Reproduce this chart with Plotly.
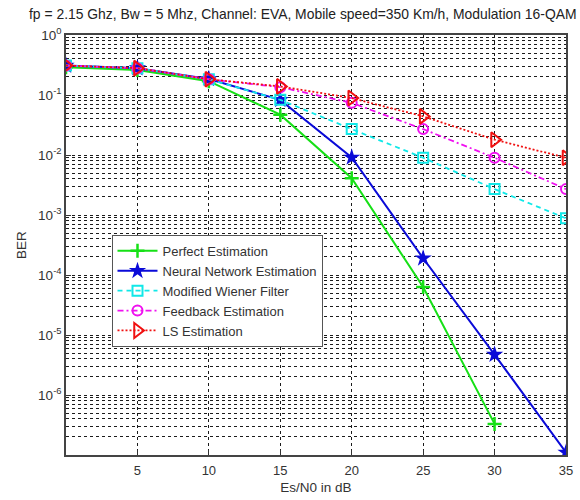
import plotly.graph_objects as go

snr = [0, 5, 10, 15, 20, 25, 30, 35]
perfect_x = [0, 5, 10, 15, 20, 25, 30]
perfect = [0.29, 0.26, 0.17, 0.047, 0.0041, 6.3e-5, 3.3e-7]
neural = [0.31, 0.28, 0.185, 0.083, 0.0091, 1.9e-4, 4.7e-6, 1.1e-7]
wiener = [0.31, 0.28, 0.183, 0.083, 0.027, 0.0090, 0.0027, 0.00088]
feedback = [0.31, 0.28, 0.183, 0.135, 0.074, 0.027, 0.0090, 0.0027]
ls = [0.31, 0.28, 0.183, 0.139, 0.089, 0.044, 0.018, 0.0090]

names = ["Perfect Estimation", "Neural Network Estimation", "Modified Wiener Filter",
         "Feedback Estimation", "LS Estimation"]
x_ticks = [5, 10, 15, 20, 25, 30, 35]
y_ticks = [1, 1e-1, 1e-2, 1e-3, 1e-4, 1e-5, 1e-6]
y_ticktext = ["10<sup>0</sup>", "10<sup>-1</sup>", "10<sup>-2</sup>", "10<sup>-3</sup>",
              "10<sup>-4</sup>", "10<sup>-5</sup>", "10<sup>-6</sup>"]
title = "fp = 2.15 Ghz, Bw = 5 Mhz, Channel: EVA, Mobile speed=350 Km/h, Modulation 16-QAM"

FONT = "Liberation Sans, Arial, sans-serif"

fig = go.Figure()
fig.add_trace(go.Scatter(x=perfect_x, y=perfect, name=names[0], mode="lines+markers",
                         line=dict(color="#16e016", width=2),
                         marker=dict(symbol="cross-thin", size=10, line=dict(color="#16e016", width=2.5))))
fig.add_trace(go.Scatter(x=snr, y=neural, name=names[1], mode="lines+markers",
                         line=dict(color="#0a0ad8", width=2),
                         marker=dict(symbol="star", size=13, color="#0a0ad8")))
fig.add_trace(go.Scatter(x=snr, y=wiener, name=names[2], mode="lines+markers",
                         line=dict(color="#10e8e8", width=1.8, dash="5px,4px"),
                         marker=dict(symbol="square-open", size=10, color="#10e8e8", line=dict(width=2))))
fig.add_trace(go.Scatter(x=snr, y=feedback, name=names[3], mode="lines+markers",
                         line=dict(color="#f010f0", width=1.8, dash="6px,3px,2px,3px"),
                         marker=dict(symbol="circle-open", size=10, color="#f010f0", line=dict(width=2))))
fig.add_trace(go.Scatter(x=snr, y=ls, name=names[4], mode="lines+markers",
                         line=dict(color="#f01010", width=1.8, dash="2px,2px"),
                         marker=dict(symbol="triangle-right-open", size=13, color="#f01010", line=dict(width=2))))

minor_vals = [k * 10.0 ** e for e in range(-7, 0) for k in range(2, 10)]
grid = dict(gridcolor="#1a1a1a", gridwidth=1, griddash="3px,3px")

fig.update_layout(
    width=580, height=500,
    margin=dict(l=66, r=7, t=35, b=43),
    paper_bgcolor="white", plot_bgcolor="white",
    font=dict(family=FONT, size=13, color="#333333"),
    showlegend=True,
    legend=dict(x=0.091, y=0.524, xanchor="left", yanchor="top",
                bgcolor="white", bordercolor="#555555", borderwidth=1,
                font=dict(family=FONT, size=13, color="#333333"),
                itemwidth=40, tracegroupgap=0),
    xaxis=dict(range=[0, 35], tickmode="array", tickvals=x_ticks, ticks="inside", ticklen=5,
               tickcolor="#333333", showgrid=True, **grid, zeroline=False,
               ticklabelstandoff=3,
               showline=True, linecolor="#444444", linewidth=1.5, mirror=True,
               title=dict(text="Es/N0 in dB", standoff=5, font=dict(size=13.5))),
    yaxis=dict(type="log", range=[-7, 0], tickmode="array", tickvals=y_ticks, ticktext=y_ticktext,
               ticks="inside", ticklen=5, tickcolor="#333333", showgrid=True, **grid,
               tickfont=dict(size=13.5),
               minor=dict(tickmode="array", tickvals=minor_vals, showgrid=True, ticks="",
                          gridcolor="#1a1a1a", gridwidth=1, griddash="3px,3px"),
               showline=True, linecolor="#444444", linewidth=1.5, mirror=True, zeroline=False,
               title=dict(text="BER", standoff=8, font=dict(size=13.5))),
    annotations=[dict(text=title, xref="paper", yref="paper", x=-0.079, y=1.05,
                      xanchor="left", yanchor="middle", showarrow=False,
                      font=dict(family=FONT, size=13.9, color="#222222"))],
)

fig.write_html("out.html")
